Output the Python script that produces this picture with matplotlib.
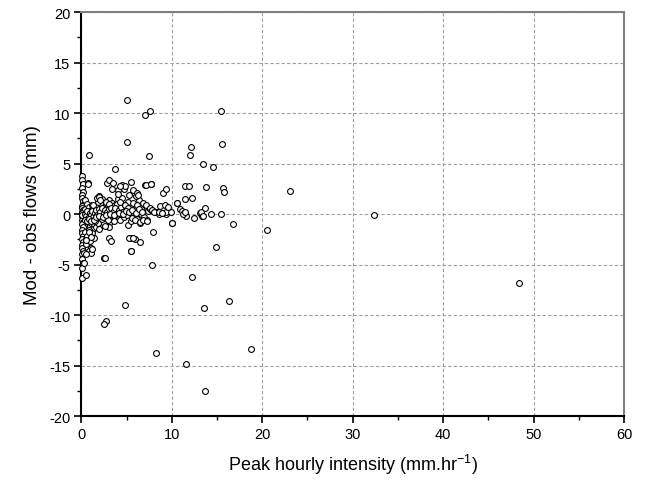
import matplotlib
matplotlib.use("Agg")
import matplotlib.pyplot as plt
from matplotlib.ticker import MultipleLocator

plt.rcParams['font.family'] = ['Liberation Sans', 'DejaVu Sans']
plt.rcParams['mathtext.fontset'] = 'custom'
plt.rcParams['mathtext.rm'] = 'Liberation Sans'
plt.rcParams['mathtext.default'] = 'regular'
plt.rcParams['axes.unicode_minus'] = False

# --- data: peak hourly intensity (mm/hr) vs model - observed flows (mm) ---
# column of near-zero intensity events
x_zero = [0.05, 0.10, 0.15, 0.05, 0.20, 0.10, 0.05, 0.15, 0.25, 0.10, 0.05, 0.20,
          0.10, 0.15, 0.05, 0.25, 0.10, 0.20, 0.05, 0.15, 0.10, 0.05, 0.20, 0.10,
          0.15, 0.05, 0.10, 0.20, 0.05, 0.10, 0.15, 0.05, 0.10, 0.05, 0.08]
y_zero = [3.8, 3.4, 3.0, 2.6, 2.2, 1.9, 1.6, 1.3, 1.0, 0.8, 0.6, 0.4,
          0.2, 0.0, -0.2, -0.4, -0.6, -0.8, -1.0, -1.3, -1.6, -1.9, -2.2, -2.5,
          -2.8, -3.1, -3.4, -3.7, -4.0, -4.4, -4.8, -5.3, -6.3, 0.1, -0.1]

# low-intensity cluster (0.3 - 4 mm/hr)
x_low = [0.35, 0.40, 0.50, 0.60, 0.70, 0.80, 0.90, 1.00, 1.10, 1.20, 1.30, 1.40,
         1.50, 0.45, 0.55, 0.65, 0.75, 0.85, 0.95, 1.05, 1.15, 1.25, 1.35, 1.45,
         0.50, 0.60, 0.80, 1.00, 1.20, 1.40, 0.70, 0.88, 1.07, 0.52, 1.07, 0.82,
         0.33, 1.07, 0.52, 0.48, 0.30, 0.81, 0.70, 0.74, 1.15,
         1.60, 1.70, 1.80, 1.90, 2.00, 2.10, 2.20, 2.30, 2.40, 2.50, 2.60, 2.70,
         2.80, 2.90, 3.00, 3.10, 3.20, 3.30, 3.40, 3.50, 3.60, 3.70, 3.80, 3.90,
         4.00, 1.60, 1.80, 2.00, 2.20, 2.50, 2.80, 3.00, 3.40, 1.70, 2.40, 2.90,
         1.99, 2.06, 2.72, 3.10, 2.80, 3.10, 3.53, 3.40, 4.05, 3.75, 3.10, 3.28,
         2.54, 2.60, 2.72, 2.54, 1.55, 1.75, 2.25, 2.65, 3.35, 3.65, 1.30, 0.95,
         0.40, 0.55, 0.65, 0.78, 0.90, 1.02, 1.18, 1.32, 1.48, 1.62, 1.78, 1.92,
         2.08, 2.28, 2.46, 2.62, 2.84, 3.05, 3.25, 3.48, 3.70, 0.45, 0.62, 0.85,
         1.10, 1.38, 1.66, 1.95, 2.35, 2.75, 3.15, 3.55]
y_low = [1.40, 0.50, -0.30, 0.20, -0.80, 0.40, -1.20, 0.10, -0.50, 0.60, -1.50, 0.30,
         -0.20, -1.80, -2.50, 1.00, -0.10, 0.70, -2.00, -0.90, 0.90, -0.30, -1.00, 0.50,
         -3.00, -2.20, -1.60, -2.70, -1.90, -2.40, 0.00, -1.74, -2.23, -2.56, -3.40, -3.65,
         -3.88, -3.88, -3.97, -6.00, -4.83, 5.82, 3.03, 2.96, -3.48,
         0.80, -0.40, 1.20, 0.10, 1.78, -0.60, 0.50, 1.45, -1.10, 0.70, 0.00, 1.00,
         -0.30, 0.40, 1.40, 0.80, -0.80, 0.20, 1.10, 0.50, -0.20, 0.90, 0.30, 1.00,
         1.50, -1.30, -0.90, -1.50, -0.20, -0.90, 0.60, -1.30, -0.50, 1.60, 0.30, -0.60,
         1.72, 1.38, 1.22, 0.96, 3.03, 3.35, 3.03, 2.53, 2.40, 4.44, -2.40, -2.66,
         -4.30, -4.37, -10.55, -10.88, -0.70, 0.25, -0.45, -1.20, -0.10, -0.70, 0.95, 0.30,
         0.05, -0.15, 0.30, -0.35, 0.15, -0.05, 0.35, -0.25, 0.10, 0.45, -0.10, 0.55,
         0.20, 0.60, 0.15, 0.40, 0.20, 0.55, 0.65, 0.25, 0.60, -0.55, -0.65, -0.45,
         -0.70, -0.60, -0.30, -0.15, -0.25, -0.05, 0.05, -0.10]

# mid-intensity events (4 - 10 mm/hr)
x_mid = [4.20, 4.40, 4.60, 4.80, 5.00, 5.20, 5.40, 5.60, 5.80, 6.00, 6.20, 6.40,
         6.60, 6.80, 7.00, 7.20, 7.40, 7.60, 7.90, 8.30, 8.60, 9.00, 9.30,
         4.30, 4.70, 5.10, 5.50, 6.10, 6.50, 6.90, 7.30, 4.50, 5.30, 6.00, 4.10, 5.70,
         4.27, 4.82, 5.20, 4.64, 5.00, 5.56, 5.93, 6.48, 6.84, 7.20,
         6.10, 6.80, 7.15, 7.60, 7.85, 8.06, 8.70, 9.24, 8.60, 9.35, 9.87, 9.98,
         4.45, 4.70, 5.45, 5.74, 6.10, 7.00, 7.66, 9.00, 9.30, 6.26, 7.17, 7.70,
         5.37, 5.93, 6.48, 5.49, 5.30, 5.67, 5.50, 7.95, 7.84, 4.79, 4.27,
         5.08, 7.00, 7.58, 5.00, 7.47, 4.82, 8.20, 4.30, 8.90, 9.60,
         4.15, 4.55, 4.90, 5.25, 5.65, 6.05, 6.35, 6.75]
y_mid = [0.40, 0.70, 0.20, 0.90, 0.50, 1.20, 0.10, 0.80, -0.40, 0.60, 0.30, 1.40,
         0.00, 0.50, 0.90, 0.60, 0.30, 0.50, 0.30, 0.20, 0.00, 0.10, 0.05,
         -0.60, -0.30, -1.10, -0.70, -0.50, -0.90, -0.30, -0.60, 1.60, 1.90, 1.80, 2.00, 1.10,
         1.22, 0.89, 0.56, 0.24, -0.10, -0.42, -0.59, -0.75, -0.59, -0.69,
         0.89, 1.12, 0.89, 0.63, 0.40, 0.24, 0.83, 0.89, 0.17, 0.17, 0.24, -0.92,
         2.86, 2.50, 3.13, 2.37, 2.04, 2.87, 2.96, 2.04, 2.47, 1.94, 2.86, 2.96,
         -2.40, -2.46, -2.80, -3.68, -2.33, -2.40, -3.70, -1.77, -5.00, 2.76, 2.80,
         11.30, 9.80, 10.20, 7.14, 5.79, -8.97, -13.80, 0.00, 0.15, 0.70,
         0.15, 0.00, 0.35, 0.20, 0.40, 0.10, 0.55, 0.25]

# higher-intensity events (> 10 mm/hr)
x_high = [10.53, 10.60, 10.93, 11.15, 11.37, 11.56, 11.27, 11.45, 11.48, 12.18,
          11.50, 11.90, 12.07, 11.96, 12.20, 11.60, 13.10, 13.36, 13.18, 13.40,
          13.65, 14.28, 15.39, 13.50, 14.57, 13.76, 15.67, 15.78, 15.46, 15.56,
          16.74, 14.83, 13.58, 16.30, 18.73, 13.65, 23.10, 20.57, 32.40, 48.40,
          10.00, 12.40]
y_high = [1.08, 1.12, 0.49, 0.30, 0.07, -0.22, 0.00, 0.24, 1.48, 1.55,
          2.76, 2.76, 6.60, 5.89, -6.24, -14.80, 0.13, -0.20, 0.24, -0.16,
          0.56, 0.04, 0.00, 5.00, 4.67, 2.66, 2.60, 2.14, 10.20, 6.90,
          -0.99, -3.30, -9.33, -8.64, -13.40, -17.50, 2.27, -1.55, -0.06, -6.80,
          -0.92, -0.40]

x_ticks = [0, 10, 20, 30, 40, 50, 60]
y_ticks = [-20, -15, -10, -5, 0, 5, 10, 15, 20]

xs = x_zero + x_low + x_mid + x_high
ys = y_zero + y_low + y_mid + y_high

fig = plt.figure(figsize=(6.46, 4.85), dpi=100)
ax = fig.add_axes([0.126, 0.140, 0.840, 0.833])

ax.plot(xs, ys, linestyle='none', marker='o', markersize=4.2,
        markerfacecolor='white', markeredgecolor='black', markeredgewidth=0.8,
        zorder=3, clip_on=False)

ax.set_xlim(0, 60)
ax.set_ylim(-20, 20)
ax.set_xticks(x_ticks)
ax.set_yticks(y_ticks)
ax.xaxis.set_minor_locator(MultipleLocator(5))
ax.yaxis.set_minor_locator(MultipleLocator(2.5))

ax.grid(True, which='major', linestyle=(0, (3, 2)), color='#a0a0a0', linewidth=0.8)
ax.set_axisbelow(True)

ax.tick_params(which='major', direction='out', length=5, width=1.2, labelsize=10.5,
               colors='black', pad=3)
ax.tick_params(which='minor', direction='out', length=3, width=1.0)
ax.tick_params(top=False, right=False, which='both')

for side in ['left', 'bottom']:
    ax.spines[side].set_linewidth(1.5)
    ax.spines[side].set_color('black')
for side in ['top', 'right']:
    ax.spines[side].set_linewidth(1.5)
    ax.spines[side].set_color('#808080')

ax.set_xlabel('Peak hourly intensity (mm.hr$^{-1}$)', fontsize=13, labelpad=8)
ax.set_ylabel('Mod - obs flows (mm)', fontsize=13.5, labelpad=6)

fig.savefig('out.png', dpi=100)
